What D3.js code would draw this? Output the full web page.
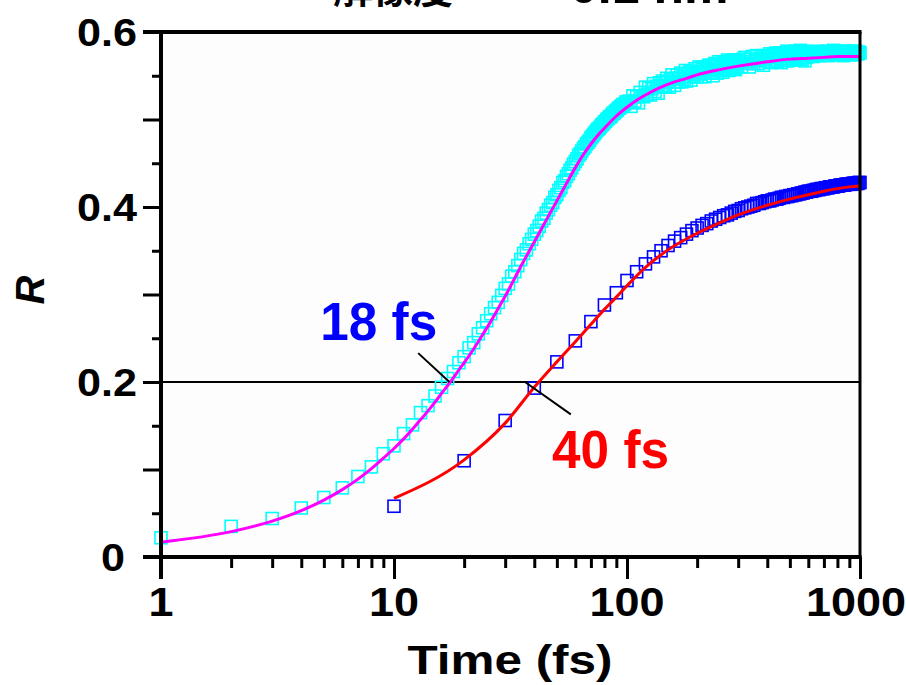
<!DOCTYPE html>
<html><head><meta charset="utf-8">
<script src="https://cdn.jsdelivr.net/npm/d3@7"></script>
<style>body{margin:0;background:#fff}text{font-family:"Liberation Sans",Arial,sans-serif;font-weight:bold}</style></head>
<body><svg id="c" width="906" height="685"></svg>
<script>
// ---- data ----
const titleCJK = "解像度 ～";
const titleLatin = "0.1 nm";
const xTickLabels = ["1", "10", "100", "1000"];
const yTickLabels = ["0", "0.2", "0.4", "0.6"];
const cyanTimes = d3.range(1, 101).concat(d3.range(102, 301, 2), d3.range(305, 601, 5), d3.range(610, 1001, 10));
const cyanValues = [
  .022,.035,.044,.056,.068,.079,.092,.103,.118,.127,
  .141,.151,.165,.173,.184,.194,.204,.212,.222,.229,
  .239,.245,.255,.262,.270,.278,.285,.291,.299,.307,
  .312,.321,.326,.333,.340,.347,.351,.358,.363,.369,
  .373,.378,.384,.387,.393,.397,.402,.405,.411,.414,
  .419,.422,.428,.430,.435,.438,.442,.445,.449,.452,
  .455,.459,.461,.464,.467,.469,.472,.474,.476,.479,
  .481,.483,.485,.487,.489,.490,.492,.494,.495,.497,
  .498,.500,.501,.503,.503,.505,.507,.507,.509,.510,
  .511,.513,.513,.515,.515,.517,.517,.518,.520,.520,
  // 102..300 step 2
  .521,.515,.527,.521,.526,.519,.531,.527,.526,.537,
  .529,.536,.528,.535,.541,.532,.538,.530,.542,.539,
  .544,.538,.537,.547,.543,.537,.546,.551,.543,.539,
  .547,.551,.543,.547,.553,.543,.549,.546,.556,.544,
  .552,.549,.555,.545,.553,.555,.549,.558,.552,.549,
  .554,.560,.552,.549,.557,.560,.554,.549,.559,.558,
  .553,.562,.556,.553,.562,.558,.550,.561,.564,.556,
  .562,.553,.561,.566,.558,.556,.564,.560,.554,.563,
  .566,.558,.562,.557,.568,.563,.556,.565,.561,.567,
  .559,.563,.568,.558,.565,.557,.568,.566,.561,.567,
  // 305..600 step 5
  .566,.560,.569,.571,.564,.566,.560,.569,.572,.564,
  .568,.573,.564,.570,.567,.573,.562,.572,.569,.573,
  .566,.575,.565,.571,.574,.568,.576,.566,.573,.576,
  .570,.565,.574,.575,.568,.573,.578,.567,.574,.572,
  .577,.570,.568,.575,.578,.571,.568,.575,.577,.570,
  .579,.573,.569,.576,.574,.567,.578,.571,.577,.575,
  // 610..1000 step 10
  .574,.577,.572,.576,.575,.578,.573,.576,.574,.577,
  .575,.578,.573,.577,.575,.576,.579,.574,.576,.578,
  .574,.577,.575,.578,.573,.576,.578,.575,.577,.574,
  .576,.578,.575,.577,.574,.578,.576,.575,.577,.576
];
const magentaTimes = [1,2,3,4,5,6,7,8,9,10,11,12,13,14,15,16,17,18,19,20,22,24,26,28,30,32,35,40,45,50,55,60,65,70,75,80,90,100,110,120,140,160,180,200,250,300,400,500,600,700,800,900,1000];
const magentaValues = [.017,.029,.041,.053,.065,.077,.089,.101,.113,.124,.135,.146,.157,.167,.177,.187,.196,.205,.214,.222,.238,.254,.269,.284,.298,.312,.332,.360,.385,.407,.427,.445,.460,.472,.482,.490,.504,.514,.522,.528,.537,.543,.547,.551,.557,.561,.566,.569,.570,.571,.572,.572,.572];
const blueTimes = d3.range(10, 1001, 10);
const blueValues = [
  .058,.110,.156,.193,.223,.247,.269,.288,.302,.316,
  .326,.335,.343,.350,.356,.361,.365,.369,.373,.376,
  .379,.381,.384,.386,.388,.390,.391,.393,.395,.396,
  .398,.399,.400,.401,.402,.404,.404,.405,.406,.407,
  .407,.408,.409,.409,.410,.411,.411,.412,.412,.413,
  .413,.414,.414,.415,.415,.416,.416,.417,.417,.418,
  .418,.418,.419,.419,.420,.420,.420,.421,.421,.421,
  .422,.422,.422,.423,.423,.423,.423,.424,.424,.424,
  .424,.425,.425,.425,.425,.425,.426,.426,.426,.426,
  .426,.426,.427,.427,.427,.427,.427,.427,.428,.428
];
const redTimes = [10,20,30,40,50,60,70,80,90,100,120,150,200,250,300,400,500,600,700,800,900,1000];
const redValues = [.067,.111,.153,.194,.223,.246,.266,.283,.297,.310,.331,.351,.370,.382,.391,.402,.409,.414,.418,.421,.423,.424];
const thresholdR = 0.2;
const label18 = {text: "18 fs", t: 8.6, r: 0.248, line: [[12.7, 0.233], [17.3, 0.2]]};
const label40 = {text: "40 fs", t: 85, r: 0.102, line: [[36.5, 0.2], [57.4, 0.163]]};

// ---- chart ----
const svg = d3.select("#c");
const x = d3.scaleLog().domain([1, 1000]).range([161, 860]);
const y = d3.scaleLinear().domain([0, 0.6]).range([557, 32]);

svg.append("rect").attr("x", x(1)).attr("y", y(0.6)).attr("width", x(1000) - x(1)).attr("height", y(0) - y(0.6)).attr("fill", "#fdfdfd");

// title (mostly cut off at top, as in the reference)
const title = svg.append("text").attr("y", 2.5);
title.append("tspan").attr("x", 333).attr("font-size", 40)
  .attr("font-family", "'Noto Sans CJK JP', sans-serif").text(titleCJK);
title.append("tspan").attr("x", 570).attr("font-size", 50).text(titleLatin);

// threshold line
svg.append("line").attr("x1", x(1)).attr("x2", x(1000)).attr("y1", y(thresholdR)).attr("y2", y(thresholdR))
  .attr("stroke", "#000").attr("stroke-width", 2);

// squares
const sq = 12;
svg.append("g").selectAll("rect").data(cyanTimes.map((t, i) => [t, cyanValues[i]])).join("rect")
  .attr("x", d => x(d[0]) - sq / 2).attr("y", d => y(d[1]) - sq / 2).attr("width", sq).attr("height", sq)
  .attr("fill", "none").attr("stroke", "#00ffff").attr("stroke-width", 1.6);
svg.append("g").selectAll("rect").data(blueTimes.map((t, i) => [t, blueValues[i]])).join("rect")
  .attr("x", d => x(d[0]) - sq / 2).attr("y", d => y(d[1]) - sq / 2).attr("width", sq).attr("height", sq)
  .attr("fill", "none").attr("stroke", "#0000ff").attr("stroke-width", 1.6);

const line = d3.line().x(d => x(d[0])).y(d => y(d[1])).curve(d3.curveMonotoneX);
svg.append("path").attr("d", line(magentaTimes.map((t, i) => [t, magentaValues[i]])))
  .attr("fill", "none").attr("stroke", "#ff00ff").attr("stroke-width", 3);
svg.append("path").attr("d", line(redTimes.map((t, i) => [t, redValues[i]])))
  .attr("fill", "none").attr("stroke", "#ff0000").attr("stroke-width", 3);

// annotations
[label18, label40].forEach((L, k) => {
  svg.append("line").attr("x1", x(L.line[0][0])).attr("y1", y(L.line[0][1]))
    .attr("x2", x(L.line[1][0])).attr("y2", y(L.line[1][1])).attr("stroke", "#000").attr("stroke-width", 2);
  svg.append("text").attr("x", x(L.t)).attr("y", y(L.r)).attr("text-anchor", "middle")
    .attr("font-size", 54).attr("textLength", 117).attr("lengthAdjust", "spacingAndGlyphs")
    .attr("fill", k === 0 ? "#0000ff" : "#ff0000").text(L.text);
});

// axes
const xTicks = [];
[1, 10, 100].forEach(d => { for (let m = 1; m < 10; m++) xTicks.push(d * m); });
xTicks.push(1000);
const xAxis = d3.axisBottom(x).tickValues(xTicks).tickFormat(() => "").tickSizeOuter(0);
const gx = svg.append("g").attr("transform", `translate(0,${y(0)})`).call(xAxis);
gx.select(".domain").remove();
gx.selectAll(".tick line").attr("stroke-width", 3)
  .attr("y2", d => xTickLabels.includes(String(d)) ? 22 : 11);

const yTicks = d3.range(0, 13).map(i => +(i * 0.05).toFixed(2));
const yAxis = d3.axisLeft(y).tickValues(yTicks).tickFormat(() => "").tickSizeOuter(0);
const gy = svg.append("g").attr("transform", `translate(${x(1)},0)`).call(yAxis);
gy.select(".domain").remove();
gy.selectAll(".tick line").attr("stroke-width", 3)
  .attr("x2", d => Math.round(d * 100) % 10 === 0 ? -18 : -9);

// frame
svg.append("line").attr("x1", x(1) - 18).attr("x2", x(1000) + 1.5).attr("y1", y(0.6)).attr("y2", y(0.6)).attr("stroke", "#000").attr("stroke-width", 4);
svg.append("line").attr("x1", x(1000)).attr("x2", x(1000)).attr("y1", y(0.6)).attr("y2", y(0)).attr("stroke", "#000").attr("stroke-width", 3);
svg.append("line").attr("x1", x(1) - 18).attr("x2", x(1000) + 1.5).attr("y1", y(0)).attr("y2", y(0)).attr("stroke", "#000").attr("stroke-width", 4);
svg.append("line").attr("x1", x(1)).attr("x2", x(1)).attr("y1", y(0.6) - 2).attr("y2", y(0) + 22).attr("stroke", "#000").attr("stroke-width", 4);

// tick labels
svg.append("g").selectAll("text").data(xTickLabels).join("text")
  .attr("x", d => d === "1000" ? x(+d) - 4 : x(+d)).attr("y", 616).attr("text-anchor", "middle").attr("font-size", 40)
  .attr("textLength", d => d.length * 25).attr("lengthAdjust", "spacingAndGlyphs").text(d => d);
svg.append("g").selectAll("text").data(yTickLabels).join("text")
  .attr("x", d => d === "0" ? 125 : 137).attr("y", d => y(+d) + 14).attr("text-anchor", "end").attr("font-size", 39)
  .attr("textLength", d => d === "0" ? 24 : 60).attr("lengthAdjust", "spacingAndGlyphs").text(d => d);

// axis titles
svg.append("text").attr("x", 510).attr("y", 674).attr("text-anchor", "middle").attr("font-size", 41)
  .attr("textLength", 205).attr("lengthAdjust", "spacingAndGlyphs").text("Time (fs)");
svg.append("text").attr("transform", "translate(44,290) rotate(-90)").attr("text-anchor", "middle")
  .attr("font-size", 40).attr("font-style", "italic").text("R");
</script></body></html>
